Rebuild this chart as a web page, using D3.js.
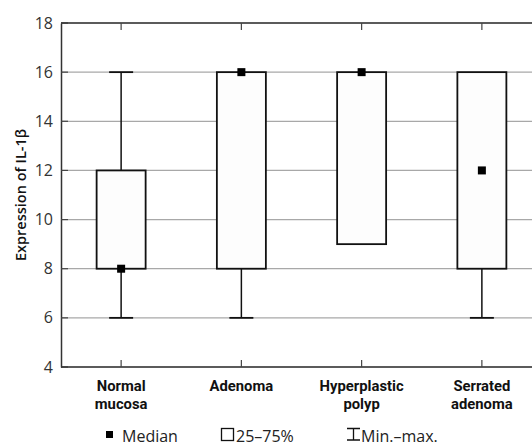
<!DOCTYPE html>
<html>
<head>
<meta charset="utf-8">
<script src="https://cdn.jsdelivr.net/npm/d3@7"></script>
<style>
  body { margin: 0; background: #fff; }
  svg { font-family: "Open Sans", "Noto Sans", sans-serif; }
</style>
</head>
<body>
<svg width="532" height="446"></svg>
<script>
const categories = [['Normal', 'mucosa'], ['Adenoma'], ['Hyperplastic', 'polyp'], ['Serrated', 'adenoma']];
const mins = [6, 6, 9, 6];
const q1s = [8, 8, 9, 8];
const medians = [8, 16, 16, 12];
const q3s = [12, 16, 16, 16];
const maxs = [16, 16, 16, 16];
const yTicks = [4, 6, 8, 10, 12, 14, 16, 18];

const width = 532;
const height = 446;
const margin = { top: 23, left: 61, bottom: 79 };

const svg = d3.select('svg');

const x = d3.scaleBand()
    .domain(categories.map(d => d.join(' ')))
    .range([margin.left, margin.left + 481]);

const y = d3.scaleLinear()
    .domain([4, 18])
    .range([height - margin.bottom, margin.top]);

const boxW = 49;
const capW = 24;

// gridlines
svg.append('g')
    .selectAll('line')
    .data(yTicks)
    .enter()
    .append('line')
    .attr('x1', margin.left)
    .attr('x2', width)
    .attr('y1', d => y(d))
    .attr('y2', d => y(d))
    .attr('stroke', '#a8a8a8')
    .attr('stroke-width', 1.2);

// left axis
const yAxis = svg.append('g')
    .attr('transform', `translate(${margin.left},0)`)
    .call(d3.axisLeft(y).tickValues(yTicks).tickSize(0).tickPadding(8));
yAxis.select('.domain').attr('stroke', '#333').attr('stroke-width', 1.5);
yAxis.selectAll('text')
    .attr('font-size', 16)
    .attr('fill', '#333')
    .attr('font-family', '"Open Sans", sans-serif');

// small dark ticks inside left axis
svg.append('g')
    .selectAll('line')
    .data(yTicks)
    .enter()
    .append('line')
    .attr('x1', margin.left)
    .attr('x2', margin.left + 7)
    .attr('y1', d => y(d))
    .attr('y2', d => y(d))
    .attr('stroke', '#444')
    .attr('stroke-width', 1.2);

// top and bottom frame lines
[18, 4].forEach(v => {
    svg.append('line')
        .attr('x1', margin.left)
        .attr('x2', width)
        .attr('y1', y(v))
        .attr('y2', y(v))
        .attr('stroke', '#333')
        .attr('stroke-width', 1.5);
});

const cx = i => x(categories[i].join(' ')) + x.bandwidth() / 2;

// category ticks at top and bottom
categories.forEach((c, i) => {
    svg.append('line')
        .attr('x1', cx(i)).attr('x2', cx(i))
        .attr('y1', y(18)).attr('y2', y(18) + 7)
        .attr('stroke', '#444').attr('stroke-width', 1.2);
    svg.append('line')
        .attr('x1', cx(i)).attr('x2', cx(i))
        .attr('y1', y(4)).attr('y2', y(4) - 7)
        .attr('stroke', '#444').attr('stroke-width', 1.2);
});

const boxes = svg.append('g');
categories.forEach((c, i) => {
    const g = boxes.append('g');
    // whiskers
    if (maxs[i] > q3s[i]) {
        g.append('line')
            .attr('x1', cx(i)).attr('x2', cx(i))
            .attr('y1', y(maxs[i])).attr('y2', y(q3s[i]))
            .attr('stroke', '#111').attr('stroke-width', 1.5);
        g.append('line')
            .attr('x1', cx(i) - capW / 2).attr('x2', cx(i) + capW / 2)
            .attr('y1', y(maxs[i])).attr('y2', y(maxs[i]))
            .attr('stroke', '#111').attr('stroke-width', 1.8);
    }
    if (mins[i] < q1s[i]) {
        g.append('line')
            .attr('x1', cx(i)).attr('x2', cx(i))
            .attr('y1', y(q1s[i])).attr('y2', y(mins[i]))
            .attr('stroke', '#111').attr('stroke-width', 1.5);
        g.append('line')
            .attr('x1', cx(i) - capW / 2).attr('x2', cx(i) + capW / 2)
            .attr('y1', y(mins[i])).attr('y2', y(mins[i]))
            .attr('stroke', '#111').attr('stroke-width', 1.8);
    }
    // box
    g.append('rect')
        .attr('x', cx(i) - boxW / 2)
        .attr('y', y(q3s[i]))
        .attr('width', boxW)
        .attr('height', y(q1s[i]) - y(q3s[i]))
        .attr('fill', '#fdfdfd')
        .attr('stroke', '#111')
        .attr('stroke-width', 1.8);
    // median
    g.append('rect')
        .attr('x', cx(i) - 4)
        .attr('y', y(medians[i]) - 4)
        .attr('width', 8)
        .attr('height', 8)
        .attr('fill', '#000');
});

// category labels, one text per line (Roboto keeps the two lines from touching)
categories.forEach((c, i) => {
    c.forEach((line, j) => {
        svg.append('text')
            .attr('x', cx(i))
            .attr('y', 391 + j * 17.5)
            .attr('text-anchor', 'middle')
            .attr('font-family', 'Roboto, sans-serif')
            .attr('font-size', 14.8)
            .attr('font-weight', 700)
            .attr('fill', '#111')
            .text(line);
    });
});

// y axis title
svg.append('text')
    .attr('transform', `translate(26, ${(y(4) + y(18)) / 2}) rotate(-90)`)
    .attr('text-anchor', 'middle')
    .attr('font-size', 14.5)
    .attr('font-weight', 600)
    .attr('fill', '#111')
    .text('Expression of IL-1β');

// legend
const legend = svg.append('g').attr('font-size', 16).attr('fill', '#222');
legend.append('rect')
    .attr('x', 106).attr('y', 431).attr('width', 7).attr('height', 7).attr('fill', '#000');
legend.append('text').attr('x', 122).attr('y', 442).text('Median');

legend.append('rect')
    .attr('x', 221.5).attr('y', 428.5).attr('width', 12).attr('height', 12)
    .attr('fill', 'none').attr('stroke', '#111').attr('stroke-width', 1.3);
legend.append('text').attr('x', 236).attr('y', 442).text('25–75%');

legend.append('path')
    .attr('d', 'M347,428.5 H360 M353.5,428.5 V440 M347,440 H360')
    .attr('fill', 'none').attr('stroke', '#111').attr('stroke-width', 1.3);
legend.append('text').attr('x', 361).attr('y', 442).text('Min.–max.');
</script>
</body>
</html>
